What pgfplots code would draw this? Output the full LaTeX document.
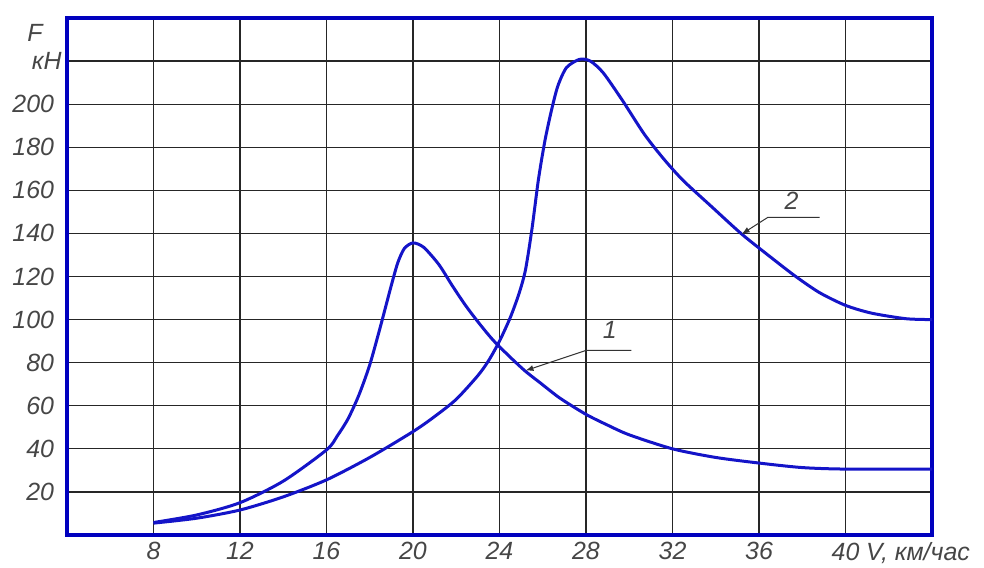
\documentclass[border=0pt]{standalone}
\usepackage{fontspec}
\setmainfont{Liberation Sans}
\usepackage{pgfplots}
\pgfplotsset{compat=1.18}
\usetikzlibrary{arrows.meta}
\definecolor{frameblue}{RGB}{0,0,190}
\definecolor{curveblue}{RGB}{20,20,200}
\definecolor{txt}{RGB}{70,70,70}
\begin{document}
\begin{tikzpicture}
\begin{axis}[
  scale only axis, width=432.5bp, height=258.5bp,
  xmin=4, xmax=44, ymin=0, ymax=240,
  xtick={8,12,...,40},
  xticklabels={8,12,16,20,24,28,32,36,{40\rlap{ V, км/час}}},
  ytick={20,40,...,220},
  yticklabels={20,40,60,80,100,120,140,160,180,200,{}},
  grid=major,
  major grid style={black!85, line width=0.6bp},
  axis line style={frameblue, line width=2bp},
  major tick length=0pt,
  tick label style={font=\fontsize{12.5}{14}\selectfont\itshape, text=txt},
  yticklabel style={xshift=-3bp},
  clip=false,
]
\addplot[curveblue, line width=1.5bp, smooth, tension=0.45] coordinates {
(8,5.8) (10,9.3) (12,15) (14,25) (16,39.5) (16.5,46) (17,54) (17.5,65) (18,79) (18.5,97)
(19,116) (19.3,126.5) (19.6,133) (20,135.6) (20.5,133.5) (21.2,125.5) (21.8,116)
(22.4,107) (23,99) (23.7,90.5) (24.5,82.5) (25.2,76) (25.9,70.5) (26.8,63.5) (28,56)
(29,51) (30,46.5) (32,40) (34,36) (36,33.4) (38,31.3) (40,30.6) (44,30.6)
};
\addplot[curveblue, line width=1.5bp, smooth, tension=0.45] coordinates {
(8,5.5) (10,7.8) (12,11.6) (14,17.7) (16,25.6) (18,36) (20,48) (21,55) (22,63)
(23,74) (23.5,81) (24,90) (24.5,101) (24.9,112) (25.2,123) (25.5,142) (25.8,165)
(26.1,183) (26.4,197) (26.7,208.5) (27.1,217) (27.7,220.8) (28.2,220) (28.8,214.5)
(29.7,201.5) (30.7,186) (31.6,174.5) (32.5,164.5) (33.8,152.5) (35.2,139.7)
(36.6,128.5) (37.7,120) (38.8,112.5) (40,106.6) (41.2,103) (42.8,100.4) (44,100)
};
\draw[black!80, line width=0.5bp, -{Latex[length=4bp,width=3bp]}]
  (axis cs:30.1,85.7) -- (axis cs:28.0,85.7) -- (axis cs:25.2,76.3);
\node[text=txt, font=\fontsize{12.5}{14}\selectfont\itshape] at (axis cs:29.1,95) {1};
\draw[black!80, line width=0.5bp, -{Latex[length=4bp,width=3bp]}]
  (axis cs:38.8,147.4) -- (axis cs:36.4,147.4) -- (axis cs:35.2,139.7);
\node[text=txt, font=\fontsize{12.5}{14}\selectfont\itshape] at (axis cs:37.5,155) {2};
\node[text=txt, font=\fontsize{12.5}{14}\selectfont\itshape, anchor=east, inner sep=0pt, xshift=-2.5bp] at (axis cs:4,220) {кН};
\node[text=txt, font=\fontsize{12.5}{14}\selectfont\itshape, anchor=east, inner sep=0pt, xshift=-12bp] at (axis cs:4,233) {F};
\coordinate (sw) at (rel axis cs:0,0);
\coordinate (ne) at (rel axis cs:1,1);
\end{axis}
\pgfresetboundingbox
\path (sw) ++(-33.5bp,-16.5bp) rectangle ([shift={(26bp,9bp)}]ne);
\end{tikzpicture}
\end{document}
